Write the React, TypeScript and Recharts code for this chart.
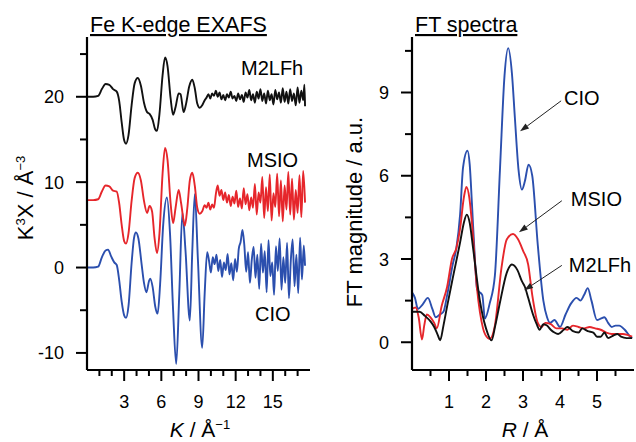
import { LineChart, Line, XAxis, YAxis, ReferenceLine } from "recharts";

// k-space EXAFS, offset curves (k in 1/Å, value k^3·chi)
const chiM2LFh: [number, number][] = [
  [0, 20], [0.5, 20], [0.9, 20.1], [1.2, 20.9], [1.5, 21.5], [1.8, 21.4], [2.1, 20.9], [2.4, 20.6],
  [2.6, 19.5], [2.8, 17], [3.0, 14.9], [3.15, 14.5], [3.35, 15.5], [3.6, 19], [3.85, 21.6], [4.1, 22.2],
  [4.35, 21.3], [4.6, 19.3], [4.85, 18.2], [5.05, 18], [5.3, 17.3], [5.5, 16.2], [5.65, 16.0], [5.85, 18],
  [6.1, 22.5], [6.3, 24.6], [6.5, 23.6], [6.75, 19.8], [6.95, 17.9], [7.15, 18.8], [7.4, 20.4], [7.55, 20.3],
  [7.8, 18.2], [8.0, 19.2], [8.25, 21.2], [8.5, 22], [8.7, 21.0], [8.9, 19.2], [9.1, 18.7], [9.3, 19.0],
  [9.5, 19.6], [9.65, 19.9], [9.8, 20.3], [9.95, 19.8], [10.1, 20.4], [10.25, 20.1], [10.4, 20.7], [10.55, 20.0],
  [10.7, 20.5], [10.85, 19.7], [11.0, 20.2], [11.15, 19.6], [11.3, 20.3], [11.45, 19.9], [11.6, 20.6], [11.75, 19.8],
  [11.9, 20.1], [12.05, 19.5], [12.2, 20.4], [12.35, 19.7], [12.5, 20.2], [12.65, 19.4], [12.8, 20.5], [12.95, 19.9],
  [13.1, 20.8], [13.25, 19.6], [13.4, 20.3], [13.55, 19.3], [13.7, 20.6], [13.85, 19.8], [14.0, 20.9], [14.15, 19.5],
  [14.3, 20.4], [14.45, 19.2], [14.6, 20.7], [14.75, 19.6], [14.9, 20.3], [15.05, 19.1], [15.2, 20.8], [15.35, 19.7],
  [15.5, 20.5], [15.65, 19.3], [15.8, 21.0], [15.95, 19.4], [16.1, 20.6], [16.25, 19.2], [16.4, 20.9], [16.55, 19.5],
  [16.7, 20.4], [16.85, 19.0], [17.0, 21.1], [17.15, 19.3], [17.3, 20.7], [17.45, 19.6], [17.55, 21.4], [17.6, 18.9],
];

const chiMSIO: [number, number][] = [
  [0, 7.9], [0.5, 7.9], [0.9, 8.0], [1.2, 8.9], [1.5, 9.6], [1.8, 9.5], [2.1, 9.0], [2.4, 8.9],
  [2.6, 7.5], [2.8, 5], [3.0, 3.1], [3.15, 2.8], [3.35, 4], [3.6, 7.8], [3.85, 10.5], [4.1, 11.1],
  [4.35, 10.2], [4.6, 7.8], [4.85, 6.4], [5.05, 7.2], [5.25, 6.6], [5.45, 3.5], [5.65, 1.7], [5.85, 4],
  [6.1, 11], [6.3, 14.0], [6.5, 12.6], [6.75, 7.5], [6.95, 5.2], [7.15, 7], [7.4, 9.1], [7.6, 7.5],
  [7.9, 4.9], [8.1, 7], [8.3, 10.2], [8.5, 11.1], [8.7, 9.6], [8.9, 7], [9.1, 6.3], [9.3, 6.6],
  [9.5, 7.3], [9.65, 7.0], [9.8, 7.6], [9.95, 6.8], [10.1, 7.4], [10.25, 7.0], [10.4, 8.6], [10.55, 9.6],
  [10.7, 8.4], [10.85, 9.1], [11.0, 7.9], [11.15, 8.8], [11.3, 7.6], [11.45, 8.5], [11.6, 7.2], [11.75, 8.3],
  [11.9, 7.5], [12.05, 9.0], [12.2, 7.1], [12.35, 8.1], [12.5, 6.9], [12.65, 9.3], [12.8, 7.4], [12.95, 8.6],
  [13.1, 6.7], [13.25, 8.2], [13.4, 7.0], [13.55, 9.8], [13.7, 6.2], [13.85, 8.8], [14.0, 7.6], [14.15, 10.6],
  [14.3, 5.8], [14.45, 9.4], [14.6, 6.6], [14.75, 10.9], [14.9, 5.5], [15.05, 8.7], [15.2, 7.1], [15.35, 11.0],
  [15.5, 6.0], [15.65, 10.2], [15.8, 5.4], [15.95, 9.6], [16.1, 6.8], [16.25, 11.2], [16.4, 6.2], [16.55, 10.4],
  [16.7, 5.6], [16.85, 9.1], [17.0, 6.4], [17.15, 10.8], [17.3, 5.9], [17.45, 11.3], [17.6, 7.6],
];

const chiCIO: [number, number][] = [
  [0, 0], [0.5, 0], [0.9, 0.1], [1.2, 1.2], [1.5, 2.0], [1.7, 2.1], [1.95, 1.3], [2.2, 0.6],
  [2.4, 0.3], [2.6, -1.5], [2.8, -4], [3.0, -5.6], [3.15, -5.9], [3.35, -4.5], [3.6, 0.5], [3.8, 3.5],
  [3.95, 4.1], [4.15, 3.4], [4.4, 0.5], [4.6, -1.8], [4.8, -2.9], [5.0, -1.6], [5.1, -1.3], [5.3, -2.3],
  [5.5, -4.5], [5.7, -5.4], [5.9, -2], [6.15, 5], [6.45, 8.2], [6.7, 4], [6.95, -5], [7.2, -11.3],
  [7.45, -3], [7.7, 6.4], [7.95, 2], [8.3, -6.2], [8.5, 2], [8.7, 8.6], [8.95, 1], [9.3, -9.4],
  [9.5, -3], [9.7, 1.8], [9.85, 0.8], [10.0, -0.6], [10.15, 1.2], [10.3, 0.4], [10.45, 1.5], [10.6, -0.4],
  [10.75, 0.9], [10.9, -1.1], [11.05, 0.6], [11.2, -0.3], [11.35, 1.6], [11.5, -0.8], [11.65, 0.5], [11.8, -1.5],
  [11.95, 1.0], [12.1, -0.5], [12.25, 2.2], [12.4, 3.0], [12.55, 4.4], [12.7, 2.6], [12.85, -0.5], [13.0, 1.8],
  [13.15, -1.8], [13.3, 0.9], [13.45, 2.4], [13.6, -1.2], [13.75, 1.5], [13.9, -2.5], [14.05, 2.8], [14.2, -0.6],
  [14.35, 1.9], [14.5, -2.9], [14.65, 3.2], [14.8, -1.0], [14.95, 0.6], [15.1, -3.2], [15.25, 2.5], [15.4, -0.4],
  [15.55, 3.4], [15.7, -2.6], [15.85, 1.2], [16.0, -1.8], [16.15, 2.9], [16.3, -3.6], [16.45, 0.8], [16.6, 3.3],
  [16.75, -2.2], [16.9, 1.5], [17.05, -3.0], [17.2, 3.5], [17.35, -1.4], [17.5, 2.6], [17.6, 0.2],
];

// FT magnitude vs R (Å)
const ftCIO: [number, number][] = [
  [0, 1.8], [0.08, 1.6], [0.16, 1.2], [0.28, 1.35], [0.43, 1.6], [0.55, 1.2], [0.64, 0.9], [0.75, 1.0],
  [0.85, 1.1], [0.95, 1.7], [1.1, 2.8], [1.2, 3.4], [1.3, 4.6], [1.38, 6.3], [1.5, 6.9], [1.56, 6.4],
  [1.62, 5.0], [1.7, 3.0], [1.76, 1.9], [1.9, 1.7], [1.97, 0.85], [2.1, 1.4], [2.24, 2.4], [2.38, 6.3],
  [2.5, 9.6], [2.6, 10.6], [2.7, 9.7], [2.78, 8.1], [2.88, 6.2], [2.97, 5.5], [3.05, 5.8], [3.15, 6.4],
  [3.25, 6.0], [3.4, 3.5], [3.55, 1.5], [3.65, 0.9], [3.73, 0.7], [3.85, 0.8], [4.0, 0.55], [4.15, 1.0],
  [4.3, 1.4], [4.45, 1.6], [4.55, 1.5], [4.65, 1.7], [4.75, 1.95], [4.85, 1.5], [5.0, 0.8], [5.1, 0.85],
  [5.2, 0.9], [5.3, 0.7], [5.4, 0.55], [5.5, 0.6], [5.6, 0.6], [5.75, 0.45], [5.9, 0.2], [5.95, 0.15],
];

const ftMSIO: [number, number][] = [
  [0, 1.2], [0.1, 1.25], [0.18, 0.9], [0.27, 0.1], [0.33, 0.6], [0.4, 1.0], [0.5, 0.9], [0.6, 0.7],
  [0.67, 0.5], [0.8, 1.3], [0.95, 2.0], [1.08, 3.0], [1.2, 3.4], [1.3, 4.1], [1.4, 5.2], [1.47, 5.6],
  [1.55, 5.2], [1.62, 4.3], [1.76, 1.9], [1.92, 0.5], [2.05, 0.15], [2.1, 0.12], [2.24, 0.6], [2.42, 2.7],
  [2.56, 3.7], [2.73, 3.9], [2.87, 3.7], [3.0, 3.3], [3.14, 2.8], [3.25, 1.7], [3.4, 0.7], [3.5, 0.55],
  [3.6, 0.7], [3.75, 0.65], [3.9, 0.5], [4.05, 0.5], [4.2, 0.45], [4.35, 0.6], [4.5, 0.55], [4.65, 0.5],
  [4.8, 0.55], [4.95, 0.5], [5.1, 0.45], [5.25, 0.35], [5.4, 0.3], [5.55, 0.3], [5.7, 0.3], [5.85, 0.25],
  [5.95, 0.2],
];

const ftM2LFh: [number, number][] = [
  [0, 1.1], [0.2, 1.1], [0.35, 0.95], [0.5, 0.75], [0.6, 0.55], [0.7, 0.25], [0.76, 0.07], [0.85, 0.6],
  [0.95, 1.3], [1.1, 2.3], [1.3, 3.6], [1.4, 4.3], [1.48, 4.6], [1.56, 4.3], [1.65, 3.4], [1.84, 1.45],
  [2.0, 0.5], [2.15, 0.07], [2.25, 0.6], [2.38, 1.45], [2.56, 2.5], [2.7, 2.8], [2.85, 2.6], [2.97, 2.2],
  [3.05, 2.0], [3.14, 1.6], [3.27, 1.0], [3.37, 0.65], [3.45, 0.45], [3.55, 0.65], [3.65, 0.6], [3.75, 0.45],
  [3.85, 0.35], [3.95, 0.3], [4.1, 0.45], [4.2, 0.55], [4.35, 0.4], [4.5, 0.35], [4.6, 0.5], [4.75, 0.4],
  [4.9, 0.35], [5.0, 0.2], [5.1, 0.2], [5.2, 0.35], [5.3, 0.15], [5.45, 0.25], [5.55, 0.3], [5.65, 0.2],
  [5.8, 0.15], [5.95, 0.15],
];

const K_TICKS = [1, 2, 3, 4, 5, 6, 7, 8, 9, 10, 11, 12, 13, 14, 15, 16, 17];
const K_MAJOR = [3, 6, 9, 12, 15];
const CHI_TICKS = [-10, -5, 0, 5, 10, 15, 20, 25];
const CHI_MAJOR = [-10, 0, 10, 20];
const R_TICKS = [0.5, 1, 1.5, 2, 2.5, 3, 3.5, 4, 4.5, 5, 5.5];
const R_MAJOR = [1, 2, 3, 4, 5];
const FT_TICKS = [0, 1.5, 3, 4.5, 6, 7.5, 9, 10.5];
const FT_MAJOR = [0, 3, 6, 9];

// arrow annotations on the FT panel, in data units
const FT_ARROWS = [
  { name: "CIO", from: { x: 4.03, y: 8.7 }, to: { x: 2.92, y: 7.6 }, dx: 3, dy: -3 },
  { name: "MSIO", from: { x: 4.05, y: 5.1 }, to: { x: 2.89, y: 3.96 }, dx: 9, dy: -2 },
  { name: "M2LFh", from: { x: 4.05, y: 2.77 }, to: { x: 3.03, y: 1.87 }, dx: 7, dy: 0 },
];

const FONT = "'Liberation Sans', Arial, sans-serif";
const RED = "#e6262b";
const BLUE = "#2b4fae";
const BLACK = "#111";

const toPts = (arr: [number, number][]) => arr.map(([x, v]) => ({ x, v }));

function xTick(majors: number[]) {
  return (props: any) => {
    const { x, y, payload } = props;
    const major = majors.includes(payload.value);
    return (
      <g>
        <line x1={x} x2={x} y1={y} y2={y + (major ? 11 : 6)} stroke="#000" strokeWidth={2} />
        {major && (
          <text x={x} y={y + 38} textAnchor="middle" fontSize={18} fontFamily={FONT} fill="#000">
            {payload.value}
          </text>
        )}
      </g>
    );
  };
}

function yTick(majors: number[]) {
  return (props: any) => {
    const { x, y, payload } = props;
    const major = majors.includes(payload.value);
    return (
      <g>
        <line x1={x} x2={x - (major ? 11 : 7)} y1={y} y2={y} stroke="#000" strokeWidth={2} />
        {major && (
          <text x={x - 23} y={y + 6.5} textAnchor="end" fontSize={18} fontFamily={FONT} fill="#000">
            {payload.value}
          </text>
        )}
      </g>
    );
  };
}

function arrowShape(name: string, dx: number, dy: number) {
  return (p: any) => {
    const { x1, y1, x2, y2 } = p;
    const ang = Math.atan2(y2 - y1, x2 - x1);
    const len = 9;
    const w = 3;
    const bx = x2 - len * Math.cos(ang);
    const by = y2 - len * Math.sin(ang);
    const nx = -Math.sin(ang) * w;
    const ny = Math.cos(ang) * w;
    return (
      <g>
        <line x1={x1} y1={y1} x2={bx} y2={by} stroke="#222" strokeWidth={1} />
        <polygon points={`${x2},${y2} ${bx + nx},${by + ny} ${bx - nx},${by - ny}`} fill="#222" />
        <text x={x1 + dx} y={y1 + dy + 7} fontSize={20} fontFamily={FONT} fill="#000">
          {name}
        </text>
      </g>
    );
  };
}

const axisLine = { stroke: "#000", strokeWidth: 2.2 };

function ExafsPanel() {
  return (
    <LineChart width={320} height={442} margin={{ top: 37, right: 10, bottom: 0, left: 0 }}>
      <XAxis
        type="number"
        dataKey="x"
        domain={[0, 18]}
        ticks={K_TICKS}
        interval={0}
        height={72}
        tickSize={0}
        tickMargin={0}
        axisLine={axisLine}
        tickLine={false}
        tick={xTick(K_MAJOR)}
      />
      <YAxis
        type="number"
        domain={[-12, 27]}
        ticks={CHI_TICKS}
        interval={0}
        width={87}
        tickSize={0}
        tickMargin={0}
        axisLine={axisLine}
        tickLine={false}
        tick={yTick(CHI_MAJOR)}
      />
      <Line data={toPts(chiCIO)} dataKey="v" type="monotone" stroke={BLUE} strokeWidth={1.9} dot={false} isAnimationActive={false} />
      <Line data={toPts(chiMSIO)} dataKey="v" type="monotone" stroke={RED} strokeWidth={1.9} dot={false} isAnimationActive={false} />
      <Line data={toPts(chiM2LFh)} dataKey="v" type="monotone" stroke={BLACK} strokeWidth={1.9} dot={false} isAnimationActive={false} />
    </LineChart>
  );
}

function FtPanel() {
  return (
    <LineChart width={316} height={442} margin={{ top: 37, right: 2, bottom: 0, left: 0 }}>
      <XAxis
        type="number"
        dataKey="x"
        domain={[0, 6]}
        ticks={R_TICKS}
        interval={0}
        height={72}
        tickSize={0}
        tickMargin={0}
        axisLine={axisLine}
        tickLine={false}
        tick={xTick(R_MAJOR)}
      />
      <YAxis
        type="number"
        domain={[-1, 11]}
        ticks={FT_TICKS}
        interval={0}
        width={92}
        tickSize={0}
        tickMargin={0}
        axisLine={axisLine}
        tickLine={false}
        tick={yTick(FT_MAJOR)}
      />
      <Line data={toPts(ftCIO)} dataKey="v" type="monotone" stroke={BLUE} strokeWidth={1.9} dot={false} isAnimationActive={false} />
      <Line data={toPts(ftMSIO)} dataKey="v" type="monotone" stroke={RED} strokeWidth={1.9} dot={false} isAnimationActive={false} />
      <Line data={toPts(ftM2LFh)} dataKey="v" type="monotone" stroke={BLACK} strokeWidth={1.9} dot={false} isAnimationActive={false} />
      {FT_ARROWS.map((a) => (
        <ReferenceLine
          key={a.name}
          segment={[a.from, a.to]}
          shape={arrowShape(a.name, a.dx, a.dy)}
        />
      ))}
    </LineChart>
  );
}

export default function App() {
  return (
    <div style={{ position: "absolute", left: 0, top: 0, width: 636, height: 442, background: "#fff", fontFamily: FONT }}>
      <div style={{ position: "absolute", left: 0, top: 0 }}>
        <ExafsPanel />
      </div>
      <div style={{ position: "absolute", left: 320, top: 0 }}>
        <FtPanel />
      </div>
      <svg width={636} height={442} style={{ position: "absolute", left: 0, top: 0, pointerEvents: "none" }} fontFamily={FONT}>
        <text x={90} y={32} fontSize={21.5} fill="#000" style={{ textDecoration: "underline" }}>
          Fe K-edge EXAFS
        </text>
        <text x={415} y={32} fontSize={21.5} fill="#000" style={{ textDecoration: "underline" }}>
          FT spectra
        </text>
        <text transform="translate(33,198) rotate(-90)" textAnchor="middle" fontSize={22} fill="#000">
          K<tspan dy={-8} fontSize={13}>3</tspan>
          <tspan dy={8}>X / Å</tspan>
          <tspan dy={-8} fontSize={13}>−3</tspan>
        </text>
        <text transform="translate(362,212) rotate(-90)" textAnchor="middle" fontSize={22} fill="#000">
          FT magnitude / a.u.
        </text>
        <text x={200} y={437} textAnchor="middle" fontSize={21} fill="#000">
          <tspan fontStyle="italic">K</tspan> / Å<tspan dy={-8} fontSize={13}>−1</tspan>
        </text>
        <text x={525} y={437} textAnchor="middle" fontSize={21} fill="#000">
          <tspan fontStyle="italic">R</tspan> / Å
        </text>
        <text x={241} y={75} fontSize={20} fill="#000">M2LFh</text>
        <text x={247} y={167} fontSize={20} fill="#000">MSIO</text>
        <text x={255} y={321} fontSize={20} fill="#000">CIO</text>
      </svg>
    </div>
  );
}
